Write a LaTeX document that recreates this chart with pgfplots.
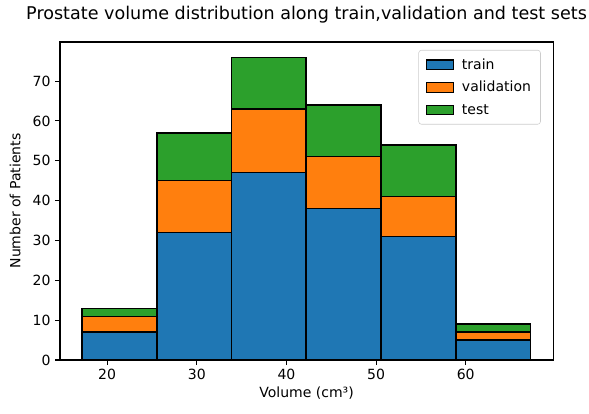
\documentclass[border=0pt]{standalone}
\usepackage{fontspec}
\setmainfont{DejaVu Sans}
\usepackage{pgfplots}
\pgfplotsset{compat=1.18}
\definecolor{tabblue}{HTML}{1F77B4}
\definecolor{taborange}{HTML}{FF7F0E}
\definecolor{tabgreen}{HTML}{2CA02C}
\begin{document}
\begin{tikzpicture}
\path[use as bounding box] (-44.1pt,-38.95pt) rectangle (388.8pt,264.6pt);
\begin{axis}[
  at={(0,0)}, anchor=south west,
  scale only axis, width=362.4pt, height=233.7pt,
  xmin=14.74, xmax=69.75, ymin=0, ymax=79.8,
  xtick={20,30,40,50,60}, ytick={0,10,20,30,40,50,60,70},
  tick align=outside, major tick length=3.5pt,
  tick style={black, line width=0.8pt},
  axis line style={line width=0.8pt},
  xtick pos=bottom, ytick pos=left,
  /pgf/number format/assume math mode=true,
  tick label style={font=\fontsize{10.3}{12}\selectfont},
  label style={font=\fontsize{10.3}{12}\selectfont},
  xlabel={Volume (cm³)}, ylabel={Number of Patients},
  xlabel style={yshift=2pt},
  ylabel style={yshift=2pt},
  title={Prostate volume distribution along train,validation and test sets},
  title style={font=\fontsize{12.9}{15}\selectfont, yshift=4pt},
  legend style={font=\fontsize{10.3}{12}\selectfont, draw=black!20, rounded corners=2pt,
    at={(0.975,0.975)}, anchor=north east, inner xsep=5pt, inner ysep=4pt,
    row sep=3.5pt, cells={anchor=west},
    /tikz/every odd column/.style={column sep=4pt}},
  legend image code/.code={\draw[#1, line width=0.8pt, sharp corners] (0pt,-3.5pt) rectangle (20pt,3.5pt);},
  every axis plot/.append style={draw=black, line width=1pt},
]
\addlegendimage{fill=tabblue, draw=black}
\addlegendentry{train}
\addlegendimage{fill=taborange, draw=black}
\addlegendentry{validation}
\addlegendimage{fill=tabgreen, draw=black}
\addlegendentry{test}
% cumulative totals (test on top)
\addplot[ybar interval, fill=tabgreen, forget plot] coordinates {
(17.2,13) (25.55,57) (33.9,76) (42.2,64) (50.55,54) (58.9,9) (67.25,9)};
\addplot[ybar interval, fill=taborange, forget plot] coordinates {
(17.2,11) (25.55,45) (33.9,63) (42.2,51) (50.55,41) (58.9,7) (67.25,7)};
\addplot[ybar interval, fill=tabblue, forget plot] coordinates {
(17.2,7) (25.55,32) (33.9,47) (42.2,38) (50.55,31) (58.9,5) (67.25,5)};
\end{axis}
\end{tikzpicture}
\end{document}
